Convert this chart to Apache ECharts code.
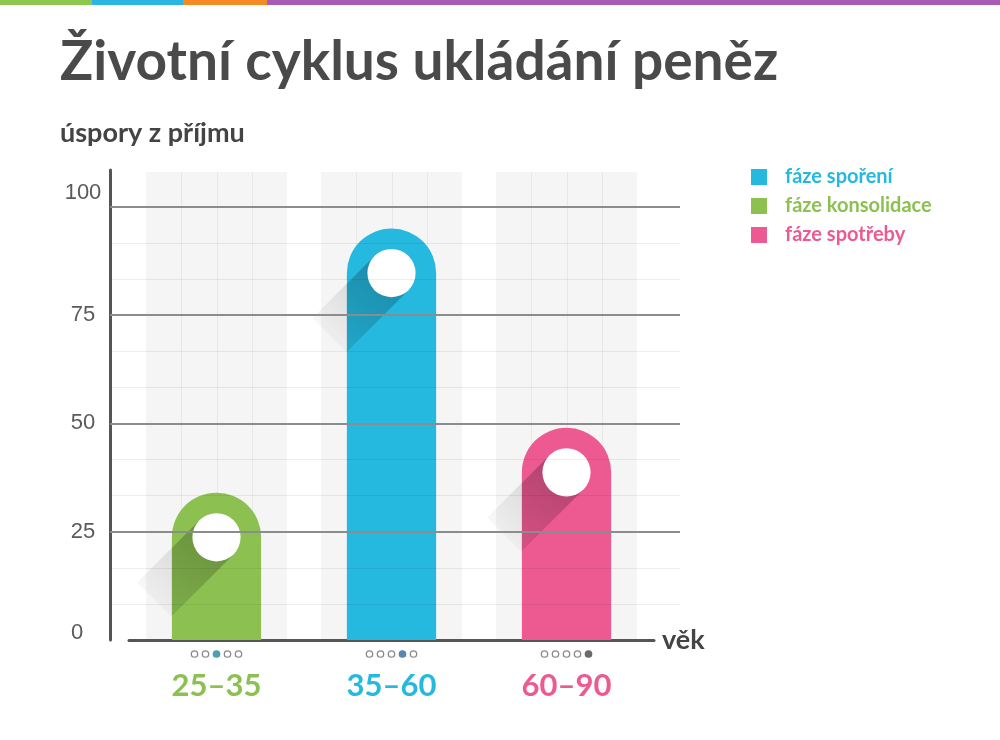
<!DOCTYPE html>
<html><head><meta charset="utf-8">
<script src="https://cdn.jsdelivr.net/npm/echarts@6/dist/echarts.min.js"></script>
<style>html,body{margin:0;padding:0;background:#fff}#c{width:1000px;height:740px}</style>
</head><body><div id="c"></div>
<script>
// ---- data ----
const categories = ['25–35', '35–60', '60–90'];
const phases = ['fáze konsolidace', 'fáze spoření', 'fáze spotřeby'];
const values = [34, 95, 49];
const activeDot = [2, 3, 4];
const yTicks = [0, 25, 50, 75, 100];
const legendOrder = ['fáze spoření', 'fáze konsolidace', 'fáze spotřeby'];
const colors = ['#8cc152', '#25b9e0', '#ed5a92'];
const dotColors = ['#4f9fb3', '#5a86ad', '#6b6b6b'];

const Y_MAX = 108.5;
const FONT = 'Lato';

function clipX(poly, xmin) {
  const out = [];
  for (let k = 0; k < poly.length; k++) {
    const P = poly[k], Q = poly[(k + 1) % poly.length];
    const pin = P[0] >= xmin, qin = Q[0] >= xmin;
    if (pin) out.push(P);
    if (pin !== qin) {
      const t = (xmin - P[0]) / (Q[0] - P[0]);
      out.push([xmin, P[1] + t * (Q[1] - P[1])]);
    }
  }
  return out;
}

function renderBar(params, api) {
  const i = api.value(0), v = api.value(1);
  const top = api.coord([i, v]);
  const base = api.coord([i, 0]);
  const bandW = api.size([1, 0])[0];
  const bw = bandW * 0.51;
  const r = bw / 2;
  const cx = top[0], cy = top[1] + r;
  const x0 = cx - r;
  const cr = r * 0.54;
  const L = 88;
  const s = Math.SQRT1_2;
  const A = [cx + cr * s, cy + cr * s], B = [cx - cr * s, cy - cr * s];
  const A2 = [A[0] - L * s, A[1] + L * s], B2 = [B[0] - L * s, B[1] + L * s];
  const band = [A, B, B2, A2];
  const inner = clipX(band, x0);
  const children = [
    { type: 'polygon', shape: { points: band }, style: { fill: new echarts.graphic.LinearGradient(1, 0, 0, 1, [
      { offset: 0, color: 'rgba(0,0,0,0.2)' }, { offset: 0.6, color: 'rgba(0,0,0,0.07)' }, { offset: 1, color: 'rgba(0,0,0,0)' }]) } },
    { type: 'rect', shape: { x: x0, y: top[1], width: bw, height: base[1] - top[1], r: [r, r, 0, 0] }, style: { fill: colors[i] } },
    { type: 'polygon', shape: { points: inner }, style: { fill: new echarts.graphic.LinearGradient(1, 0, 0, 1, [
      { offset: 0, color: 'rgba(0,0,0,0.28)' }, { offset: 1, color: 'rgba(0,0,0,0.1)' }]) } },
    { type: 'circle', shape: { cx: cx, cy: cy, r: cr }, style: { fill: '#ffffff' } }
  ];
  for (let k = 0; k < 5; k++) {
    const act = k === activeDot[i];
    children.push({ type: 'circle', shape: { cx: cx + (k - 2) * 11, cy: base[1] + 14, r: 3.2 },
      style: { fill: act ? dotColors[i] : '#ffffff', stroke: act ? dotColors[i] : '#8a8a8a', lineWidth: 1.3 } });
  }
  return { type: 'group', children: children };
}

function renderPanel(params, api) {
  const i = api.value(0);
  const top = api.coord([i, Y_MAX]);
  const base = api.coord([i, 0]);
  const w = api.size([1, 0])[0] * 0.806;
  const x0 = top[0] - w / 2;
  const children = [{ type: 'rect', shape: { x: x0, y: top[1] + 2, width: w, height: base[1] - top[1] - 2 }, style: { fill: '#f5f5f5' } }];
  for (let k = 1; k < 4; k++) {
    const x = Math.round(x0 + k * w / 4) + 0.5;
    children.push({ type: 'line', shape: { x1: x, y1: top[1] + 2, x2: x, y2: base[1] }, style: { stroke: '#e8e8e8', lineWidth: 1 } });
  }
  return { type: 'group', children: children };
}

const minorLines = [];
for (let k = 1; k < 12; k++) if (k % 3) minorLines.push({ yAxis: k * 25 / 3, lineStyle: { color: 'rgba(0,0,0,0.065)', width: 1, type: 'solid' } });
const majorLines = yTicks.filter(t => t > 0).map(t => ({ yAxis: t, lineStyle: { color: '#8c8c8c', width: 2, type: 'solid' } }));

const chart = echarts.init(document.getElementById('c'));
chart.setOption({
  backgroundColor: '#ffffff',
  animation: false,
  title: [
    { text: 'Životní cyklus ukládání peněz', left: 60, top: 35, padding: 0,
      textStyle: { fontFamily: FONT, fontWeight: 'bold', fontSize: 55, color: '#4a4a4a' } },
    { text: 'úspory z příjmu', left: 60, top: 120, padding: 0,
      textStyle: { fontFamily: FONT, fontWeight: 'bold', fontSize: 27, color: '#444' } }
  ],
  legend: {
    orient: 'vertical', left: 751, top: 167, icon: 'rect', itemWidth: 16, itemHeight: 16, itemGap: 9,
    selectedMode: false, padding: 0,
    textStyle: { fontFamily: FONT, fontWeight: 'bold', fontSize: 20, padding: [0, 0, 0, 13] },
    data: legendOrder.map(n => ({ name: n, textStyle: { color: colors[phases.indexOf(n)] } }))
  },
  graphic: [
    { type: 'rect', left: 0, top: 0, shape: { width: 92, height: 5 }, style: { fill: '#8dc74e' } },
    { type: 'rect', left: 92, top: 0, shape: { width: 91, height: 5 }, style: { fill: '#2cb5e2' } },
    { type: 'rect', left: 183, top: 0, shape: { width: 84, height: 5 }, style: { fill: '#f58a25' } },
    { type: 'rect', left: 267, top: 0, shape: { width: 733, height: 5 }, style: { fill: '#a85bb5' } }
  ],
  grid: [
    { left: 110, right: 320, top: 170, bottom: 100 },
    { left: 129, width: 525, top: 170, bottom: 100 }
  ],
  xAxis: [
    { type: 'value', gridIndex: 0, min: 0, max: 1, show: false },
    { type: 'category', gridIndex: 1, data: categories,
      axisLine: { lineStyle: { color: '#555', width: 3 } }, axisTick: { show: false },
      name: 'věk', nameLocation: 'end', nameGap: 8,
      nameTextStyle: { fontFamily: FONT, fontWeight: 'bold', fontSize: 27, color: '#444', verticalAlign: 'middle' },
      axisLabel: { margin: 30, formatter: (v, idx) => '{c' + idx + '|' + v + '}',
        rich: {
          c0: { color: colors[0], fontFamily: FONT, fontWeight: 'bold', fontSize: 31 },
          c1: { color: colors[1], fontFamily: FONT, fontWeight: 'bold', fontSize: 31 },
          c2: { color: colors[2], fontFamily: FONT, fontWeight: 'bold', fontSize: 31 }
        } }
    }
  ],
  yAxis: [
    { type: 'value', gridIndex: 0, min: 0, max: Y_MAX, interval: 25,
      axisLine: { show: true, lineStyle: { color: '#555', width: 3 } }, axisTick: { show: false },
      splitLine: { show: false },
      axisLabel: { margin: 27, align: 'center', showMaxLabel: false,
        formatter: v => yTicks.indexOf(v) < 0 ? '' : (v === 100 ? '{t100|' + v + '}' : v === 0 ? '{t0|' + v + '}' : '{n|' + v + '}'),
        rich: {
          n: { fontFamily: 'Liberation Sans', fontSize: 22, color: '#5a5a5a' },
          t100: { fontFamily: 'Liberation Sans', fontSize: 22, color: '#5a5a5a', padding: [0, 0, 28, 0] },
          t0: { fontFamily: 'Liberation Sans', fontSize: 22, color: '#5a5a5a', padding: [0, 12, 14, 0] }
        } }
    },
    { type: 'value', gridIndex: 1, min: 0, max: Y_MAX, interval: 25, show: false }
  ],
  series: [
    { type: 'custom', name: 'panels', xAxisIndex: 1, yAxisIndex: 1, z: 0, silent: true,
      data: categories.map((c, i) => [i, 0]), encode: { x: 0, y: 1 }, renderItem: renderPanel },
    { type: 'line', name: 'grid', xAxisIndex: 0, yAxisIndex: 0, z: 1, silent: true, data: [],
      markLine: { silent: true, symbol: 'none', label: { show: false }, animation: false,
        data: minorLines.concat(majorLines) } }
  ].concat(categories.map((c, i) => ({
    type: 'custom', name: phases[i], xAxisIndex: 1, yAxisIndex: 1, z: 3, clip: false,
    itemStyle: { color: colors[i] },
    data: [[i, values[i]]], encode: { x: 0, y: 1 }, renderItem: renderBar
  })))
});
</script>
</body></html>
